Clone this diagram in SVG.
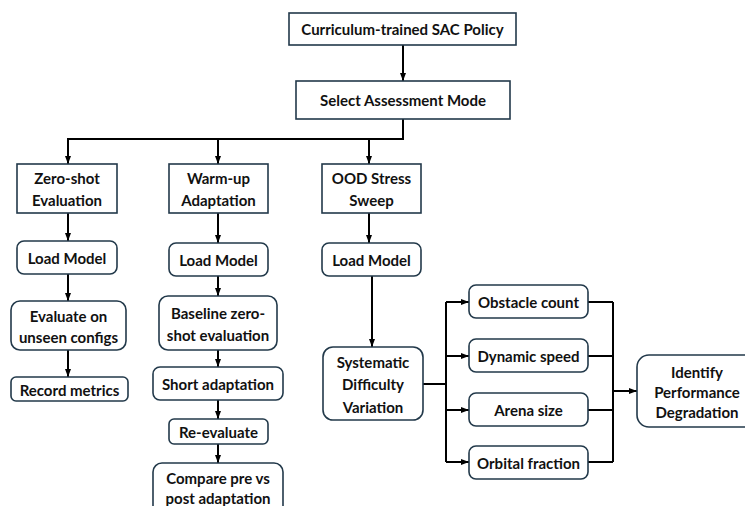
<svg xmlns="http://www.w3.org/2000/svg" width="745" height="506" viewBox="0 0 745 506">
<defs>
<style>
.box{fill:#fff;stroke:#22394a;stroke-width:1.6}
.t{font-family:Lato,"Liberation Sans",sans-serif;font-weight:700;font-size:15px;fill:#111;text-anchor:middle;dominant-baseline:central}
.c{fill:none;stroke:#000;stroke-width:2}
</style>
<marker id="ah" markerUnits="userSpaceOnUse" markerWidth="8" markerHeight="8" viewBox="0 0 8 8" refX="8" refY="4" orient="auto">
<path d="M0,1 L8,4 L0,7 Z" fill="#000"/>
</marker>
</defs>
<rect width="745" height="506" fill="#fff"/>
<g id="connectors">
<path class="c" d="M403,45 V81" marker-end="url(#ah)"/>
<path class="c" d="M403,119 V139 H68 V164" marker-end="url(#ah)"/>
<path class="c" d="M218,139 V164" marker-end="url(#ah)"/>
<path class="c" d="M369,139 V164" marker-end="url(#ah)"/>
<path class="c" d="M68,213 V241" marker-end="url(#ah)"/>
<path class="c" d="M68,274 V301" marker-end="url(#ah)"/>
<path class="c" d="M68,350 V377" marker-end="url(#ah)"/>
<path class="c" d="M218,213 V243" marker-end="url(#ah)"/>
<path class="c" d="M218,276 V296" marker-end="url(#ah)"/>
<path class="c" d="M218,350 V367" marker-end="url(#ah)"/>
<path class="c" d="M218,400 V419" marker-end="url(#ah)"/>
<path class="c" d="M218,444 V463" marker-end="url(#ah)"/>
<path class="c" d="M369,213 V243" marker-end="url(#ah)"/>
<path class="c" d="M372,276 V347" marker-end="url(#ah)"/>
<path class="c" d="M423,384 H446 M446,302 V462"/>
<path class="c" d="M446,302 H469" marker-end="url(#ah)"/>
<path class="c" d="M446,356 H469" marker-end="url(#ah)"/>
<path class="c" d="M446,410 H469" marker-end="url(#ah)"/>
<path class="c" d="M446,462 H469" marker-end="url(#ah)"/>
<path class="c" d="M588,302 H613 M588,356 H613 M588,410 H613 M588,462 H613 M613,302 V462"/>
<path class="c" d="M613,391 H637" marker-end="url(#ah)"/>
</g>
<g id="n-policy"><rect class="box" x="289" y="13" width="227" height="32"/><text class="t" x="402.5" y="29">Curriculum-trained SAC Policy</text></g>
<g id="n-select"><rect class="box" x="296" y="81" width="214" height="38"/><text class="t" x="403" y="100">Select Assessment Mode</text></g>
<g id="n-zeroshot"><rect class="box" x="17" y="164" width="100" height="49"/><text class="t" x="67" y="178">Zero-shot</text><text class="t" x="67" y="200">Evaluation</text></g>
<g id="n-load1"><rect class="box" x="17" y="241" width="100" height="33" rx="7"/><text class="t" x="67" y="257.5">Load Model</text></g>
<g id="n-evaluate"><rect class="box" x="11" y="301" width="115" height="49" rx="9"/><text class="t" x="68.5" y="316">Evaluate on</text><text class="t" x="68.5" y="337">unseen configs</text></g>
<g id="n-record"><rect class="box" x="11" y="377" width="117" height="24" rx="5"/><text class="t" x="69.5" y="389.5">Record metrics</text></g>
<g id="n-warmup"><rect class="box" x="169" y="164" width="99" height="49"/><text class="t" x="218.5" y="178">Warm-up</text><text class="t" x="218.5" y="200">Adaptation</text></g>
<g id="n-load2"><rect class="box" x="169" y="243" width="99" height="33" rx="7"/><text class="t" x="218.5" y="259.5">Load Model</text></g>
<g id="n-baseline"><rect class="box" x="159" y="296" width="118" height="54" rx="9"/><text class="t" x="218" y="313">Baseline zero-</text><text class="t" x="218" y="335">shot evaluation</text></g>
<g id="n-short"><rect class="box" x="153" y="367" width="130" height="33" rx="7"/><text class="t" x="218" y="383.5">Short adaptation</text></g>
<g id="n-reeval"><rect class="box" x="169" y="419" width="99" height="25" rx="5"/><text class="t" x="218.5" y="431.5">Re-evaluate</text></g>
<g id="n-compare"><rect class="box" x="153" y="463" width="130" height="56" rx="9"/><text class="t" x="218" y="478">Compare pre vs</text><text class="t" x="218" y="497.5">post adaptation</text></g>
<g id="n-ood"><rect class="box" x="322" y="164" width="99" height="49"/><text class="t" x="371.5" y="178">OOD Stress</text><text class="t" x="371.5" y="200">Sweep</text></g>
<g id="n-load3"><rect class="box" x="322" y="243" width="99" height="33" rx="7"/><text class="t" x="371.5" y="259.5">Load Model</text></g>
<g id="n-systematic"><rect class="box" x="323" y="347" width="100" height="73" rx="10"/><text class="t" x="373" y="362">Systematic</text><text class="t" x="373" y="384">Difficulty</text><text class="t" x="373" y="407">Variation</text></g>
<g id="n-obstacle"><rect class="box" x="469" y="285" width="119" height="33" rx="7"/><text class="t" x="528.5" y="301.5">Obstacle count</text></g>
<g id="n-dynamic"><rect class="box" x="469" y="339" width="119" height="33" rx="7"/><text class="t" x="528.5" y="355.5">Dynamic speed</text></g>
<g id="n-arena"><rect class="box" x="469" y="393" width="119" height="33" rx="7"/><text class="t" x="528.5" y="409.5">Arena size</text></g>
<g id="n-orbital"><rect class="box" x="469" y="446" width="119" height="33" rx="7"/><text class="t" x="528.5" y="462.5">Orbital fraction</text></g>
<g id="n-identify"><rect class="box" x="637" y="355" width="125" height="72" rx="12"/><text class="t" x="697" y="372">Identify</text><text class="t" x="697" y="392">Performance</text><text class="t" x="697" y="412">Degradation</text></g>
</svg>
